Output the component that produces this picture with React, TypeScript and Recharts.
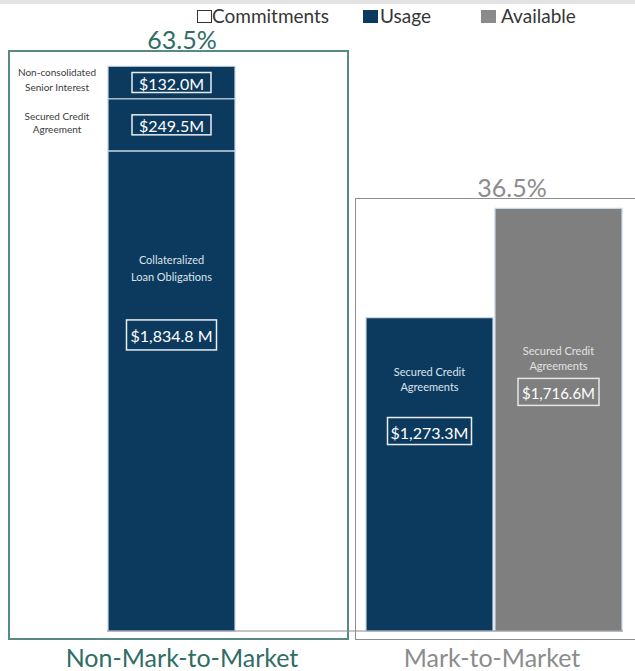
import { BarChart, Bar, XAxis, YAxis, LabelList, ReferenceLine } from 'recharts'

// bar slots: one for the non-MTM stack, an empty spacer, then the two MTM bars
const slots = ['Non-Mark-to-Market', 'spacer', 'MTM Usage', 'MTM Available']

// drawn heights in $M
const cloValues = [1950, null, null, null]
const scaValues = [212, null, null, null]
const ncsiValues = [132, null, null, null]
const usageValues = [null, null, 1273.3, null]
const availableValues = [null, null, null, 1716.6]

const groupNames = ['Non-Mark-to-Market', 'Mark-to-Market']
const groupShares = ['63.5%', '36.5%']

const cloTitle = ['Collateralized', 'Loan Obligations']
const usageTitle = ['Secured Credit', 'Agreements']
const availableTitle = ['Secured Credit', 'Agreements']
const ncsiSide = ['Non-consolidated', 'Senior Interest']
const scaSide = ['Secured Credit', 'Agreement']

const cloAmount = '$1,834.8 M'
const scaAmount = '$249.5M'
const ncsiAmount = '$132.0M'
const usageAmount = '$1,273.3M'
const availableAmount = '$1,716.6M'

const legendItems = ['Commitments', 'Usage', 'Available']

const data = slots.map((slot, i) => ({
  slot,
  clo: cloValues[i],
  sca: scaValues[i],
  ncsi: ncsiValues[i],
  usage: usageValues[i],
  available: availableValues[i],
}))

const NAVY = '#0c3a5e'
const GREY = '#7f7f7f'
const TEAL = '#2f6d66'
const FONT = 'Lato, "Open Sans", sans-serif'

function AmountBox({ cx, cy, w, h, text, size, stroke = '#e8eef4' }: any) {
  return (
    <g>
      <rect x={cx - w / 2} y={cy - h / 2} width={w} height={h} fill="none" stroke={stroke} strokeWidth={1.5} />
      <text x={cx} y={cy + 1} textAnchor="middle" dominantBaseline="central" fill="#fff" fontSize={size} fontFamily={FONT}>
        {text}
      </text>
    </g>
  )
}

function Lines({ x, ys, lines, size, fill }: any) {
  return (
    <g>
      {lines.map((l: string, i: number) => (
        <text key={i} x={x} y={ys[i]} textAnchor="middle" dominantBaseline="central" fill={fill} fontSize={size} fontFamily={FONT}>
          {l}
        </text>
      ))}
    </g>
  )
}

// label inside a bar: optional two-line title plus a boxed amount
const insideLabel =
  (opts: { title?: string[]; titleDy?: number[]; boxDy?: number; w: number; h: number; size: number; amount: string; titleFill?: string; stroke?: string }) =>
  (props: any) => {
    const { x, y, width, height } = props
    if (!(height > 0)) return null
    const cx = x + width / 2
    const cy = opts.boxDy != null ? y + opts.boxDy : y + height / 2
    return (
      <g>
        {opts.title && (
          <Lines x={cx} ys={opts.titleDy!.map((d) => y + d)} lines={opts.title} size={11} fill={opts.titleFill ?? '#dbe3ec'} />
        )}
        <AmountBox cx={cx} cy={cy} w={opts.w} h={opts.h} text={opts.amount} size={opts.size} stroke={opts.stroke} />
      </g>
    )
  }

// label to the left of a stacked segment
const sideLabel = (lines: string[], dys: number[]) => (props: any) => {
  const { x, y, height } = props
  if (!(height > 0)) return null
  return <Lines x={x - 51} ys={dys.map((d) => y + d)} lines={lines} size={10} fill="#3b3b3b" />
}

const legendSwatch = (left: number, style: any) => (
  <span style={{ position: 'absolute', left, top: 10, width: 15, height: 13, boxSizing: 'border-box', ...style }} />
)
const legendText = (left: number, text: string) => (
  <span style={{ position: 'absolute', left, top: 5, fontSize: 19, lineHeight: '22px', color: '#363636' }}>{text}</span>
)

export default function App() {
  return (
    <div style={{ position: 'absolute', left: 0, top: 0, width: 635, height: 671, background: '#fff', fontFamily: FONT, overflow: 'hidden' }}>
      <div style={{ position: 'absolute', left: 0, top: 0, width: 635, height: 4, background: '#e3e3e3' }} />

      {/* group frames */}
      <div style={{ position: 'absolute', left: 8, top: 50, width: 341, height: 590, border: '2px solid #568a83', boxSizing: 'border-box' }} />
      <div style={{ position: 'absolute', left: 355, top: 198, width: 300, height: 442, border: '1.5px solid #8e8e8e', boxSizing: 'border-box' }} />

      <BarChart
        width={635}
        height={671}
        data={data}
        margin={{ top: 50, right: 12, bottom: 40, left: 107 }}
        barCategoryGap={1}
        style={{ position: 'absolute', left: 0, top: 0 }}
      >
        <XAxis dataKey="slot" hide />
        <YAxis hide domain={[0, 2360]} />
        <Bar dataKey="clo" stackId="s" fill={NAVY} stroke="#c9d7e4" strokeWidth={1.2} isAnimationActive={false}>
          <LabelList content={insideLabel({ title: cloTitle, titleDy: [109, 126], boxDy: 184, w: 90, h: 30, size: 16, amount: cloAmount })} />
        </Bar>
        <Bar dataKey="sca" stackId="s" fill={NAVY} stroke="#c9d7e4" strokeWidth={1.2} isAnimationActive={false}>
          <LabelList content={insideLabel({ w: 79, h: 20, size: 16, amount: scaAmount })} />
          <LabelList content={sideLabel(scaSide, [17, 30])} />
        </Bar>
        <Bar dataKey="ncsi" stackId="s" fill={NAVY} stroke="#c9d7e4" strokeWidth={1.2} isAnimationActive={false}>
          <LabelList content={insideLabel({ w: 79, h: 20, size: 16, amount: ncsiAmount })} />
          <LabelList content={sideLabel(ncsiSide, [6, 21])} />
        </Bar>
        <Bar dataKey="usage" stackId="s" fill={NAVY} stroke="#c9d7e4" strokeWidth={1.2} isAnimationActive={false}>
          <LabelList content={insideLabel({ title: usageTitle, titleDy: [54, 69], boxDy: 113.5, w: 84, h: 27, size: 16, amount: usageAmount })} />
        </Bar>
        <Bar dataKey="available" stackId="s" fill={GREY} stroke="#c9d7e4" strokeWidth={1.2} isAnimationActive={false}>
          <LabelList
            content={insideLabel({ title: availableTitle, titleDy: [142, 157], boxDy: 183.5, w: 81, h: 27, size: 15, amount: availableAmount, titleFill: '#e2e2e2', stroke: '#e6e6e6' })}
          />
        </Bar>
        <ReferenceLine y={0} stroke="#8a8a8a" strokeWidth={1} />
      </BarChart>

      {/* legend */}
      {legendSwatch(197, { border: '1.5px solid #333' })}
      {legendText(212, legendItems[0])}
      {legendSwatch(363, { background: NAVY })}
      {legendText(380, legendItems[1])}
      {legendSwatch(481, { background: '#8a8a8a' })}
      {legendText(501, legendItems[2])}

      {/* group shares and names */}
      <svg width={635} height={671} style={{ position: 'absolute', left: 0, top: 0, pointerEvents: 'none' }}>
        <text x={182} y={39} textAnchor="middle" dominantBaseline="central" fontSize={25} fill={TEAL} fontFamily={FONT}>
          {groupShares[0]}
        </text>
        <text x={512} y={187} textAnchor="middle" dominantBaseline="central" fontSize={25} fill="#8c8c8c" fontFamily={FONT}>
          {groupShares[1]}
        </text>
        <text x={182} y={657} textAnchor="middle" dominantBaseline="central" fontSize={25} fill={TEAL} fontFamily={FONT}>
          {groupNames[0]}
        </text>
        <text x={492} y={657} textAnchor="middle" dominantBaseline="central" fontSize={25} fill="#8c8c8c" fontFamily={FONT}>
          {groupNames[1]}
        </text>
      </svg>
    </div>
  )
}
